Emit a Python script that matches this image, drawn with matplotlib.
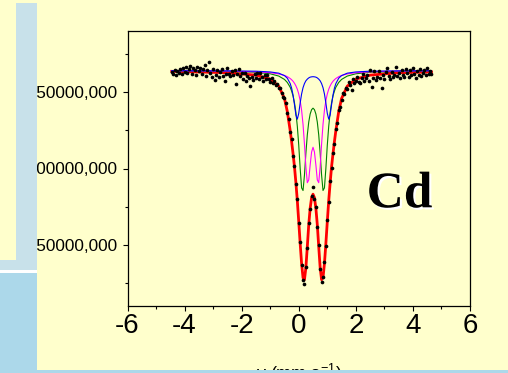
import numpy as np
import matplotlib
matplotlib.use("Agg")
import matplotlib.pyplot as plt
import matplotlib.patheffects as pe
from matplotlib.patches import Rectangle
from matplotlib.ticker import MultipleLocator, FuncFormatter

plt.rcParams["font.family"] = ["Liberation Sans", "DejaVu Sans"]
plt.rcParams["mathtext.default"] = "regular"
plt.rcParams["axes.unicode_minus"] = False

# measured spectrum: channel velocities (mm/s) and counts (in thousands)
velocity = np.linspace(-4.45, 4.65, 183)
counts_k = [
    1163.4, 1162.1, 1164.8, 1161.5, 1164.1, 1162.8, 1165.4, 1162.1, 1166.1, 1163.4,
    1166.7, 1162.8, 1165.4, 1167.4, 1162.1, 1166.1, 1164.8, 1161.5, 1166.7, 1164.1,
    1165.7, 1161.7, 1165.0, 1167.6, 1160.4, 1164.4, 1169.6, 1162.4, 1159.8, 1165.0,
    1157.8, 1161.1, 1164.4, 1159.8, 1163.1, 1165.0, 1160.4, 1157.2, 1161.7, 1165.7,
    1161.8, 1160.5, 1163.8, 1161.2, 1164.4, 1155.3, 1161.8, 1165.1, 1160.5, 1162.5,
    1158.9, 1162.8, 1157.6, 1160.8, 1159.5, 1154.3, 1160.2, 1158.2, 1162.1, 1159.5,
    1162.3, 1158.9, 1162.6, 1159.7, 1157.6, 1161.2, 1158.3, 1161.3, 1158.3, 1156.6,
    1159.4, 1156.2, 1157.6, 1154.9, 1155.3, 1152.6, 1153.0, 1149.7, 1147.1, 1146.4,
    1142.6, 1136.2, 1132.5, 1124.0, 1119.1, 1108.5, 1101.8, 1089.7, 1080.3, 1064.4,
    1051.7, 1036.6, 1027.0, 1024.6, 1035.8, 1047.8, 1064.4, 1073.4, 1081.9, 1088.2,
    1080.0, 1074.8, 1062.0, 1049.7, 1034.1, 1025.4, 1029.1, 1038.7, 1049.6, 1066.3,
    1078.0, 1092.0, 1100.2, 1110.4, 1116.3, 1125.8, 1129.8, 1138.0, 1140.4,
    1145.1, 1149.7, 1149.0, 1153.0, 1152.0, 1156.6, 1154.9, 1151.7, 1158.9, 1156.1,
    1157.2, 1160.2, 1156.7, 1156.2, 1159.3, 1162.1, 1157.1, 1159.3, 1161.5, 1157.0,
    1164.4, 1153.6, 1159.3, 1163.9, 1158.1, 1160.2, 1163.6, 1159.0, 1152.6, 1161.2,
    1158.9, 1163.4, 1165.5, 1160.3, 1158.4, 1163.0, 1159.8, 1161.2, 1166.5, 1160.6,
    1162.6, 1159.4, 1164.6, 1161.4, 1160.2, 1165.4, 1162.2, 1159.6, 1164.2, 1161.0,
    1165.6, 1161.7, 1159.1, 1163.7, 1161.2, 1165.1, 1160.6, 1162.5, 1164.6, 1161.3,
    1165.9, 1162.0, 1164.0, 1162.0,
]

fit_v = [-4.45, -2.5, -1.5, -1.0, -0.7, -0.5, -0.4, -0.3, -0.25, -0.2, -0.15, -0.1,
         -0.05, 0.0, 0.05, 0.1, 0.15, 0.2, 0.25, 0.3, 0.35, 0.4, 0.45, 0.5, 0.55, 0.6,
         0.65, 0.7, 0.75, 0.8, 0.85, 0.9, 0.95, 1.0, 1.05, 1.1, 1.15, 1.2, 1.25, 1.3,
         1.4, 1.5, 1.7, 2.0, 2.5, 3.5, 4.65]
fit_total = [1163.6, 1162.7, 1161.1, 1158.5, 1153.9, 1145.8, 1137.2, 1124.8, 1117.6,
             1109.7, 1101.2, 1090.7, 1078.9, 1065.2, 1050.8, 1037.7, 1028.5, 1027.2,
             1035.1, 1048.8, 1063.2, 1074.0, 1080.9, 1083.2, 1080.9, 1074.0, 1063.2,
             1048.8, 1035.1, 1027.2, 1028.5, 1037.7, 1050.8, 1065.2, 1078.9, 1090.7,
             1101.2, 1109.7, 1117.6, 1124.8, 1137.2, 1145.8, 1153.9, 1158.5, 1161.1,
             1162.7, 1163.2]
fit_blue = [1164.0, 1163.9, 1163.7, 1163.2, 1162.4, 1160.8, 1159.1, 1155.6, 1152.6,
            1148.1, 1141.8, 1135.0, 1132.3, 1136.1, 1142.9, 1148.8, 1152.9, 1155.6,
            1157.4, 1158.5, 1159.3, 1159.8, 1160.0, 1160.1, 1160.0, 1159.8, 1159.3,
            1158.5, 1157.4, 1155.6, 1152.9, 1148.8, 1142.9, 1136.1, 1132.3, 1135.0,
            1141.8, 1148.1, 1152.6, 1155.6, 1159.1, 1160.8, 1162.4, 1163.2, 1163.7,
            1163.9, 1164.0]
fit_green = [1163.9, 1163.6, 1163.0, 1162.0, 1160.5, 1158.3, 1156.3, 1153.2, 1150.7,
             1147.5, 1143.0, 1136.7, 1127.6, 1115.2, 1100.0, 1087.3, 1085.6, 1095.7,
             1110.0, 1122.0, 1130.4, 1135.7, 1138.5, 1139.5, 1138.5, 1135.7, 1130.4,
             1122.0, 1110.0, 1095.7, 1085.6, 1087.3, 1100.0, 1115.2, 1127.6, 1136.7,
             1143.0, 1147.5, 1150.7, 1153.2, 1156.3, 1158.3, 1160.5, 1162.0, 1163.0,
             1163.6, 1163.9]
fit_magenta = [1164.0, 1163.8, 1163.3, 1162.7, 1161.9, 1160.9, 1160.1, 1158.9, 1158.1,
               1157.1, 1155.8, 1154.1, 1151.9, 1148.8, 1144.4, 1138.1, 1128.9, 1116.0,
               1101.0, 1090.7, 1092.5, 1102.3, 1110.8, 1113.9, 1110.8, 1102.3, 1092.5,
               1090.7, 1101.0, 1116.0, 1128.9, 1138.1, 1144.4, 1148.8, 1151.9, 1154.1,
               1155.8, 1157.1, 1158.1, 1158.9, 1160.1, 1160.9, 1161.9, 1162.7, 1163.3,
               1163.8, 1164.0]

BG = "#FFFFCC"
PALE = "#C8E1EA"
LIGHTBLUE = "#ACD8EA"
W, H = 508, 373

fig = plt.figure(figsize=(W / 100, H / 100), dpi=100, facecolor=BG)
ax = fig.add_axes([127.5 / W, 67 / H, 342.5 / W, 275 / H], facecolor=BG)

ax.plot(fit_v, fit_total, color="red", lw=2.0, zorder=2)
ax.plot(fit_v, fit_green, color="green", lw=0.8, zorder=3)
ax.plot(fit_v, fit_magenta, color="magenta", lw=0.8, zorder=3)
ax.plot(fit_v, fit_blue, color="blue", lw=0.8, zorder=4)
ax.scatter(velocity, counts_k, s=7, c="black", linewidths=0, zorder=5)

ax.set_xlim(-6, 6)
ax.set_ylim(1010, 1190)
ax.xaxis.set_major_locator(MultipleLocator(2))
ax.xaxis.set_minor_locator(MultipleLocator(1))
ax.yaxis.set_major_locator(MultipleLocator(50))
ax.yaxis.set_minor_locator(MultipleLocator(25))
ax.yaxis.set_major_formatter(
    FuncFormatter(lambda v, p: f"{v * 1000:.3f}".replace(".", ","))
)
ax.tick_params(which="both", direction="out", top=False, right=False, width=0.8)
ax.tick_params(which="major", length=3.6)
ax.tick_params(which="minor", length=2.2)
ax.tick_params(axis="x", labelsize=20, pad=1.5)
ax.tick_params(axis="y", labelsize=12.4, pad=3.2)
for sp in ax.spines.values():
    sp.set_linewidth(0.9)

fig.text(299 / W, (H - 362) / H, "v (mm s$^{-1}$)", ha="center", va="top", fontsize=13)

fig.text(366.7 / W, (H - 207.3) / H, "Cd", fontfamily="Liberation Serif",
         fontweight="bold", fontsize=37, va="baseline", ha="left",
         path_effects=[pe.withSimplePatchShadow(offset=(1.5, -1.5),
                                                shadow_rgbFace="white", alpha=1.0)])

# slide decorations drawn over the clipped tick labels
for x0, y0, x1, y1, col in [
    (16, 3, 37, 270, PALE),
    (0, 260, 37, 270, PALE),
    (0, 270, 37, 272.5, "white"),
    (0, 272.5, 37, 373, LIGHTBLUE),
    (37, 370, 508, 373, LIGHTBLUE),
]:
    fig.add_artist(Rectangle((x0 / W, (H - y1) / H), (x1 - x0) / W, (y1 - y0) / H,
                             transform=fig.transFigure, facecolor=col,
                             edgecolor="none", zorder=10))

fig.savefig("out.png", dpi=100, facecolor=BG)
